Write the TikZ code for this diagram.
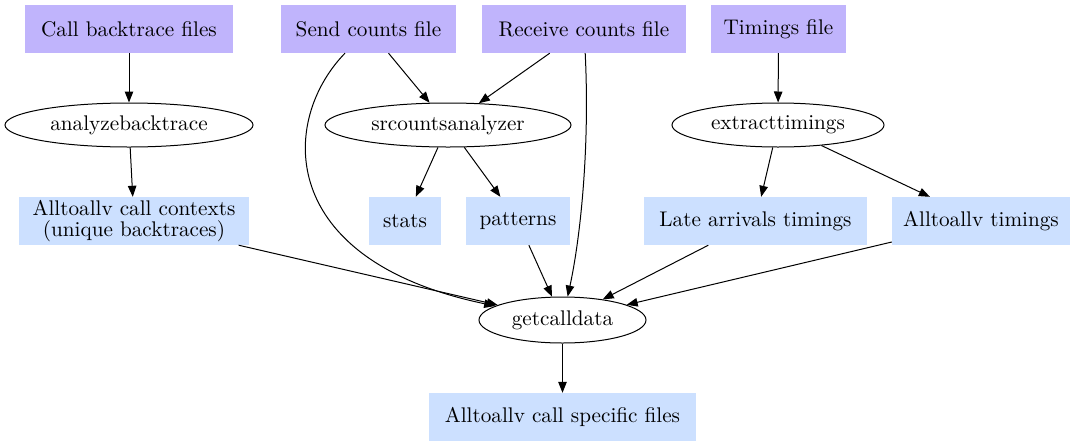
\documentclass[tikz,border=0pt]{standalone}
\usepackage{fontspec}
\setmainfont{lmroman10-regular.otf}
\usetikzlibrary{shapes.geometric,arrows.meta}
\definecolor{srcfill}{RGB}{192,180,252}
\definecolor{outfill}{RGB}{204,224,255}
\tikzset{
  base/.style={font=\fontsize{21.2}{21.5}\selectfont, inner sep=0pt, align=center},
  srcbox/.style={base, rectangle, fill=srcfill, minimum height=48pt},
  outbox/.style={base, rectangle, fill=outfill, minimum height=48pt},
  proc/.style={base, ellipse, draw, line width=1pt, minimum height=44pt},
  edge/.style={line width=1pt, -{Triangle[length=11pt,width=8.5pt]}}
}
\begin{document}
\begin{tikzpicture}[x=1pt,y=-1pt]
\useasboundingbox (0,0) rectangle (1076,445);
% sources
\node[srcbox, minimum width=208pt] (cbt) at (129,29) {Call backtrace files};
\node[srcbox, minimum width=175pt] (send) at (368.5,29) {Send counts file};
\node[srcbox, minimum width=204pt] (recv) at (584,29) {Receive counts file};
\node[srcbox, minimum width=135pt] (tim) at (778.5,29) {Timings file};
% processes
\node[proc, minimum width=248pt] (anb) at (129,125) {analyzebacktrace};
\node[proc, minimum width=246pt] (src) at (448,125) {srcountsanalyzer};
\node[proc, minimum width=212pt] (ext) at (778,125) {extracttimings};
% outputs
\node[outbox, minimum width=230pt] (ctx) at (134,221) {Alltoallv call contexts\\(unique backtraces)};
\node[outbox, minimum width=72pt] (stats) at (405,221) {stats};
\node[outbox, minimum width=104pt] (pat) at (518,221) {patterns};
\node[outbox, minimum width=223pt] (late) at (755.5,221) {Late arrivals timings};
\node[outbox, minimum width=178pt] (att) at (981,221) {Alltoallv timings};
\node[proc, minimum width=167pt, minimum height=46pt] (get) at (562.5,320) {getcalldata};
\node[outbox, minimum width=267pt] (spec) at (562.5,417) {Alltoallv call specific files};
% edges
\draw[edge] (cbt) -- (anb);
\draw[edge] (anb) -- (ctx);
\draw[edge] (send) -- (src);
\draw[edge] (recv) -- (src);
\draw[edge] (tim) -- (ext);
\draw[edge] (src) -- (stats);
\draw[edge] (src) -- (pat);
\draw[edge] (ext) -- (late);
\draw[edge] (ext) -- (att);
\draw[edge] (send) .. controls (280,120) and (275,260) .. (get);
\draw[edge] (recv) .. controls (590,150) and (580,240) .. (get);
\draw[edge] (ctx) -- (get);
\draw[edge] (pat) -- (get);
\draw[edge] (late) -- (get);
\draw[edge] (att) -- (get);
\draw[edge] (get) -- (spec);
\end{tikzpicture}
\end{document}
